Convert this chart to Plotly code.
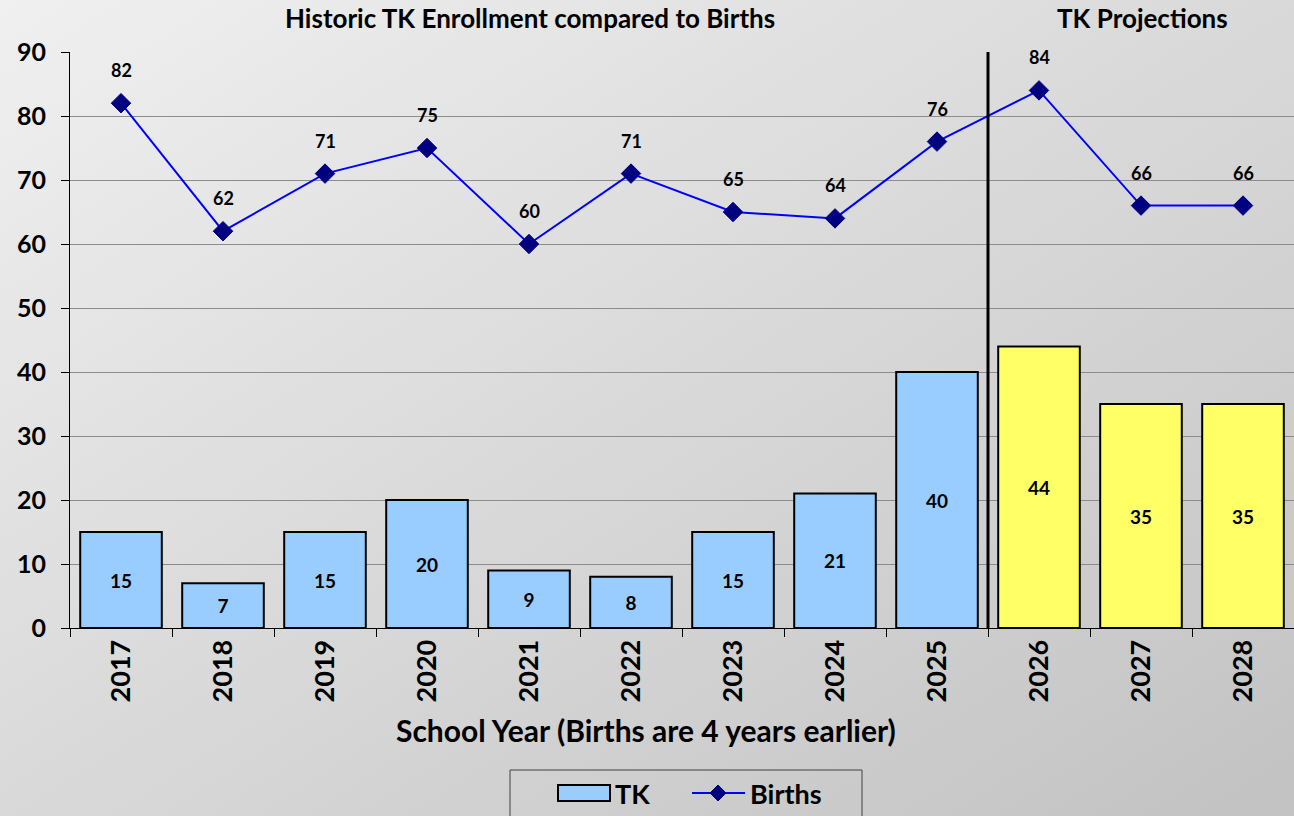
import base64
import plotly.graph_objects as go

years = ["2017", "2018", "2019", "2020", "2021", "2022", "2023", "2024", "2025", "2026", "2027", "2028"]
tk = [15, 7, 15, 20, 9, 8, 15, 21, 40, 44, 35, 35]
births = [82, 62, 71, 75, 60, 71, 65, 64, 76, 84, 66, 66]
projected = [False] * 9 + [True] * 3
y_ticks = [0, 10, 20, 30, 40, 50, 60, 70, 80, 90]

FONT = "Lato, 'Open Sans', sans-serif"
BLUE_BAR, YELLOW_BAR = "#99CCFF", "#FFFF66"
bar_colors = [YELLOW_BAR if p else BLUE_BAR for p in projected]

W, H = 1294, 816
ML, MR, MT, MB = 70, 0, 52, 188
PW, PH = W - ML - MR, H - MT - MB


def px(x):
    return (x - ML) / PW


def py(y):
    return (MT + PH - y) / PH


svg = (
    '<svg xmlns="http://www.w3.org/2000/svg" width="100" height="100" preserveAspectRatio="none">'
    '<defs><linearGradient id="g" x1="0" y1="0" x2="1" y2="1">'
    '<stop offset="0" stop-color="#f0f0f0"/><stop offset="1" stop-color="#c2c2c2"/>'
    '</linearGradient></defs><rect width="100" height="100" fill="url(#g)"/></svg>'
)
bg_uri = "data:image/svg+xml;base64," + base64.b64encode(svg.encode()).decode()


def bf(size):
    return dict(family=FONT, size=size, color="black", weight="bold")


fig = go.Figure()
fig.add_trace(go.Bar(
    x=years, y=tk, name="TK",
    marker=dict(color=bar_colors, line=dict(color="black", width=2)),
    text=[str(v) for v in tk], textposition="inside", insidetextanchor="middle",
    textfont=bf(19), insidetextfont=bf(19),
    textangle=0, showlegend=False,
))
fig.add_trace(go.Scatter(
    x=years, y=births, name="Births", mode="lines+markers",
    line=dict(color="#0000FF", width=2),
    marker=dict(symbol="diamond", size=15, color="#000080", line=dict(color="#000080", width=1)),
    showlegend=False,
))

for i, b in enumerate(births):
    fig.add_annotation(x=i, y=b, text=str(b), showarrow=False, yshift=33, font=bf(18),
                       xanchor="center")

fig.add_shape(type="line", xref="x", yref="paper", x0=8.5, x1=8.5, y0=0, y1=1,
              line=dict(color="black", width=3))

fig.add_annotation(xref="paper", yref="paper", x=px(530), y=py(18),
                   text="Historic TK Enrollment compared to Births", showarrow=False,
                   font=bf(26), xanchor="center", yanchor="middle")
fig.add_annotation(xref="paper", yref="paper", x=px(1142), y=py(18),
                   text="TK Projections", showarrow=False,
                   font=bf(26), xanchor="center", yanchor="middle")
fig.add_annotation(xref="paper", yref="paper", x=px(646), y=py(730),
                   text="School Year (Births are 4 years earlier)", showarrow=False,
                   font=bf(30), xanchor="center", yanchor="middle")

# custom legend
fig.add_shape(type="rect", xref="paper", yref="paper", x0=px(510), x1=px(862), y0=py(830), y1=py(770),
              line=dict(color="#404040", width=1), fillcolor="rgba(0,0,0,0)")
fig.add_shape(type="rect", xref="paper", yref="paper", x0=px(558), x1=px(610), y0=py(801), y1=py(785),
              line=dict(color="black", width=2), fillcolor=BLUE_BAR)
fig.add_annotation(xref="paper", yref="paper", x=px(613), y=py(793), text="TK", showarrow=False,
                   xanchor="left", yanchor="middle", font=bf(27))
fig.add_shape(type="line", xref="paper", yref="paper", x0=px(692), x1=px(745), y0=py(793), y1=py(793),
              line=dict(color="#0000FF", width=2))
fig.add_shape(type="path", xref="paper", yref="paper",
              path=f"M {px(718)},{py(785)} L {px(726)},{py(793)} L {px(718)},{py(801)} L {px(710)},{py(793)} Z",
              line=dict(color="#000080", width=1), fillcolor="#000080")
fig.add_annotation(xref="paper", yref="paper", x=px(748), y=py(793), text="Births", showarrow=False,
                   xanchor="left", yanchor="middle", font=bf(27))

fig.add_layout_image(dict(
    source=bg_uri, xref="paper", yref="paper",
    x=px(0), y=py(0), sizex=W / PW, sizey=H / PH,
    xanchor="left", yanchor="top", sizing="stretch", layer="below",
))

fig.update_layout(
    width=W, height=H,
    margin=dict(l=ML, r=MR, t=MT, b=MB),
    paper_bgcolor="#d8d8d8", plot_bgcolor="rgba(0,0,0,0)",
    font=dict(family=FONT, color="black"),
    bargap=0.2,
    showlegend=False,
)
fig.update_xaxes(
    type="category",
    range=[-0.5, 11.5], tickangle=-90, tickson="boundaries",
    ticks="outside", ticklen=8, tickcolor="black",
    showline=True, linecolor="black", linewidth=1,
    tickfont=bf(27),
    showgrid=False,
)
fig.update_yaxes(
    range=[0, 90], tickvals=y_ticks, ticktext=[str(v) for v in y_ticks],
    ticks="outside", ticklen=8, tickcolor="black",
    showline=True, linecolor="black", linewidth=1,
    showgrid=True, gridcolor="#8c8c8c", gridwidth=1,
    tickfont=bf(25), ticklabelstandoff=10,
    zeroline=False,
)

fig.write_html("out.html", config={"displayModeBar": False},
               post_script="document.body.style.margin='0';document.body.style.overflow='hidden';")
